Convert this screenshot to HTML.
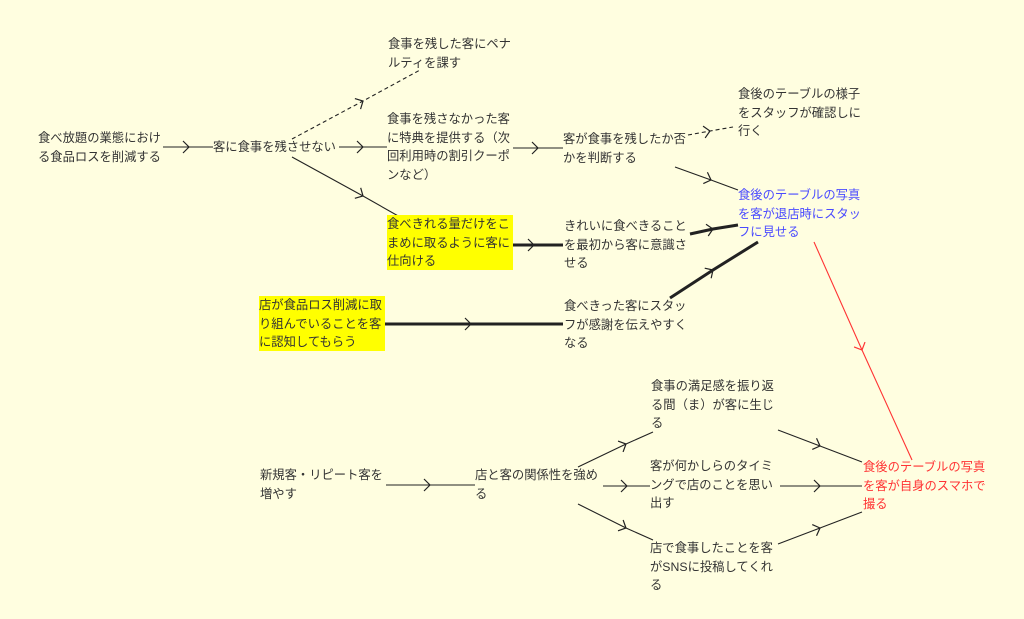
<!DOCTYPE html>
<html><head><meta charset="utf-8"><style>
html,body{margin:0;padding:0;}
body{width:1024px;height:619px;background:#fffee0;position:relative;overflow:hidden;font-family:"Liberation Sans","Noto Sans CJK JP",sans-serif;font-size:12.3px;line-height:18.5px;color:#333;}
.t{position:absolute;width:128px;white-space:normal;word-break:break-all;}
.y{background:#ffff00;}
svg{position:absolute;left:0;top:0;}
</style></head><body>
<svg width="1024" height="619" viewBox="0 0 1024 619">
<defs>
<marker id="a" markerUnits="userSpaceOnUse" markerWidth="20" markerHeight="20" refX="10" refY="10" orient="auto" overflow="visible"><path d="M4,4 L10,10 L4,16" fill="none" stroke="#222" stroke-width="1.2"/></marker>
<marker id="r" markerUnits="userSpaceOnUse" markerWidth="20" markerHeight="20" refX="10" refY="10" orient="auto" overflow="visible"><path d="M4,4 L10,10 L4,16" fill="none" stroke="#f33" stroke-width="1.2"/></marker>
</defs>
<g fill="none" stroke="#222" stroke-width="1.1">
<polyline points="163,147 189,147 213,147" marker-mid="url(#a)"/>
<polyline points="292,139 363,101 420,70" stroke-dasharray="4,3" marker-mid="url(#a)"/>
<polyline points="339,147 363,147 387,147" marker-mid="url(#a)"/>
<polyline points="292,157 363,196 400,217" marker-mid="url(#a)"/>
<polyline points="513,148 538,148 563,148" marker-mid="url(#a)"/>
<polyline points="688,135 710,131 733,127" stroke-dasharray="4,3" marker-mid="url(#a)"/>
<polyline points="675,167 711,180 738,190" marker-mid="url(#a)"/>
<polyline points="513,245 534,245 563,245" stroke-width="3" marker-mid="url(#a)"/>
<polyline points="385,324 471,324 563,324" stroke-width="3" marker-mid="url(#a)"/>
<polyline points="690,234 713,229 738,225" stroke-width="3" marker-mid="url(#a)"/>
<polyline points="670,298 713,270 758,242" stroke-width="3" marker-mid="url(#a)"/>
<polyline points="814,242 862,350 912,460" stroke="#f33" marker-mid="url(#r)"/>
<polyline points="386,485 430,485 475,485" marker-mid="url(#a)"/>
<polyline points="578,467 626,444 653,432" marker-mid="url(#a)"/>
<polyline points="603,486 627,486 650,486" marker-mid="url(#a)"/>
<polyline points="578,504 626,528 653,540" marker-mid="url(#a)"/>
<polyline points="778,430 820,446 862,462" marker-mid="url(#a)"/>
<polyline points="780,486 820,486 862,486" marker-mid="url(#a)"/>
<polyline points="778,544 820,528 862,512" marker-mid="url(#a)"/>
</g>
</svg>
<div class="t" style="left:38px;top:129px;">食べ放題の業態における食品ロスを削減する</div>
<div class="t" style="left:213px;top:138px;width:130px;">客に食事を残させない</div>
<div class="t" style="left:388px;top:35px;">食事を残した客にペナルティを課す</div>
<div class="t" style="left:387px;top:110px;">食事を残さなかった客に特典を提供する（次回利用時の割引クーポンなど）</div>
<div class="t y" style="left:387px;top:215px;width:126px;height:55px;">食べきれる量だけをこまめに取るように客に仕向ける</div>
<div class="t y" style="left:259px;top:296px;width:126px;height:55px;">店が食品ロス削減に取り組んでいることを客に認知してもらう</div>
<div class="t" style="left:563px;top:130px;">客が食事を残したか否かを判断する</div>
<div class="t" style="left:564px;top:217px;">きれいに食べきることを最初から客に意識させる</div>
<div class="t" style="left:564px;top:297px;">食べきった客にスタッフが感謝を伝えやすくなる</div>
<div class="t" style="left:738px;top:85px;">食後のテーブルの様子をスタッフが確認しに行く</div>
<div class="t" style="left:738px;top:186px;color:#4a4aff;">食後のテーブルの写真を客が退店時にスタッフに見せる</div>
<div class="t" style="left:863px;top:458px;color:#ff3333;">食後のテーブルの写真を客が自身のスマホで撮る</div>
<div class="t" style="left:260px;top:466px;">新規客・リピート客を増やす</div>
<div class="t" style="left:475px;top:466px;">店と客の関係性を強める</div>
<div class="t" style="left:651px;top:377px;">食事の満足感を振り返る間（ま）が客に生じる</div>
<div class="t" style="left:650px;top:457px;">客が何かしらのタイミングで店のことを思い出す</div>
<div class="t" style="left:650px;top:539px;">店で食事したことを客がSNSに投稿してくれる</div>
</body></html>
